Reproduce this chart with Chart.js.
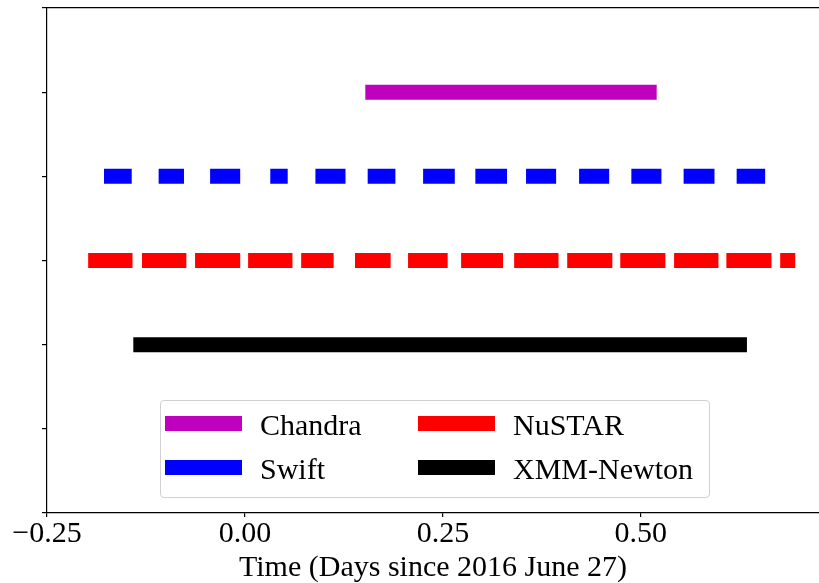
<!DOCTYPE html>
<html>
<head>
<meta charset="utf-8">
<script src="https://cdn.jsdelivr.net/npm/chart.js@4"></script>
<style>
  html,body{margin:0;padding:0;background:#fff;}
  #wrap{position:relative;width:819px;height:583px;overflow:hidden;}
  #c{position:absolute;left:0;top:0;}
  #legend{position:absolute;left:160px;top:400px;width:548px;height:96px;
    border:1px solid #d0d0d0;border-radius:4px;background:rgba(255,255,255,0.8);
    font-family:"Liberation Serif","Times New Roman",serif;font-size:30px;color:#000;}
  #legend .h{position:absolute;width:77px;height:15px;}
  #legend .t{position:absolute;line-height:30px;white-space:nowrap;}
</style>
</head>
<body>
<div id="wrap">
  <canvas id="c" width="819" height="583"></canvas>
  <div id="legend"></div>
</div>
<script>
// ----- data (days since 2016 June 27) -----
const names  = ["Chandra", "Swift", "NuSTAR", "XMM-Newton"];
const rows   = [5, 4, 3, 2];               // y level of each instrument
const xTicks = [-0.25, 0.00, 0.25, 0.50];
const yTicks = [0, 1, 2, 3, 4, 5, 6];

const chandraSegs = [[0.152, 0.520]];
const swiftSegs = [
  [-0.178,-0.143],[-0.109,-0.077],[-0.044,-0.006],[0.032,0.054],[0.089,0.127],
  [0.155,0.190],[0.225,0.265],[0.291,0.331],[0.355,0.393],[0.422,0.460],
  [0.488,0.526],[0.554,0.593],[0.621,0.657]
];
const nustarSegs = [
  [-0.198,-0.142],[-0.130,-0.074],[-0.063,-0.006],[0.004,0.060],[0.071,0.112],
  [0.139,0.184],[0.206,0.256],[0.273,0.326],[0.340,0.396],[0.407,0.464],
  [0.474,0.531],[0.542,0.598],[0.608,0.665],[0.676,0.695]
];
const xmmSegs = [[-0.141, 0.634]];

const colors = ["#bf00bf", "#0000ff", "#ff0000", "#000000"];
const segSets = [chandraSegs, swiftSegs, nustarSegs, xmmSegs];

const X_MIN = -0.25, X_MAX = 0.725;
const FONT = {family:"'Liberation Serif','Times New Roman',serif", size:30, lineHeight:1};

// ----- helpers -----
function toPoints(segs, y){
  const pts = [];
  for (const [a,b] of segs){
    pts.push({x:a,y:y},{x:b,y:y},{x:b,y:null});
  }
  return pts;
}
const fmtTick = v => (v < 0 ? "\u2212" : "") + Math.abs(v).toFixed(2);

const datasets = names.map((n,i)=>({
  label: n,
  data: toPoints(segSets[i], rows[i]),
  showLine: true,
  borderColor: colors[i],
  backgroundColor: colors[i],
  borderWidth: 15,
  borderCapStyle: "butt",
  pointRadius: 0,
  pointHoverRadius: 0,
  spanGaps: false
}));

new Chart(document.getElementById("c"), {
  type: "scatter",
  data: { datasets },
  options: {
    responsive: false,
    animation: false,
    events: [],
    layout: { padding: 0 },
    plugins: { legend:{display:false}, tooltip:{enabled:false} },
    scales: {
      x: {
        type: "linear", position: "bottom", min: X_MIN, max: X_MAX,
        afterBuildTicks: s => { s.ticks = xTicks.map(v=>({value:v})); },
        afterFit: s => { s.height = 70; },
        ticks: { includeBounds:false, color:"#000", font:FONT, padding:2, maxRotation:0,
                 callback: v => fmtTick(v) },
        grid: { drawOnChartArea:false, drawTicks:true, tickLength:4, color:"#000", lineWidth:1.2 },
        border: { display:true, color:"#000", width:1.2 },
        title: { display:true, text:"Time (Days since 2016 June 27)", color:"#000",
                 font:FONT, padding:{top:0,bottom:0} }
      },
      x2: {
        type: "linear", position: "top", axis: "x", min: X_MIN, max: X_MAX,
        afterFit: s => { s.height = 8; },
        ticks: { display:false },
        grid: { display:false },
        border: { display:true, color:"#000", width:1.2 }
      },
      y: {
        type: "linear", min: 0, max: 6,
        afterBuildTicks: s => { s.ticks = yTicks.map(v=>({value:v})); },
        afterFit: s => { s.width = 47; },
        ticks: { display:false },
        grid: { drawOnChartArea:false, drawTicks:true, tickLength:5, color:"#000", lineWidth:1.2 },
        border: { display:true, color:"#000", width:1.2 }
      }
    }
  }
});

// ----- legend (two columns, matplotlib style) -----
(function(){
  const box = document.getElementById("legend");
  const order = [0, 1, 2, 3];           // Chandra, Swift | NuSTAR, XMM-Newton
  order.forEach((i, k)=>{
    const col = Math.floor(k/2), row = k % 2;
    const hx = col ? 257 : 4, tx = col ? 352 : 99;
    const cy = row ? 66 : 22;
    const h = document.createElement("div");
    h.className = "h";
    h.style.left = hx + "px";
    h.style.top = (cy - 7.5) + "px";
    h.style.background = colors[i];
    const t = document.createElement("div");
    t.className = "t";
    t.style.left = tx + "px";
    t.style.top = (cy + 11.5 - 25) + "px";
    t.textContent = names[i];
    box.appendChild(h);
    box.appendChild(t);
  });
})();
</script>
</body>
</html>
